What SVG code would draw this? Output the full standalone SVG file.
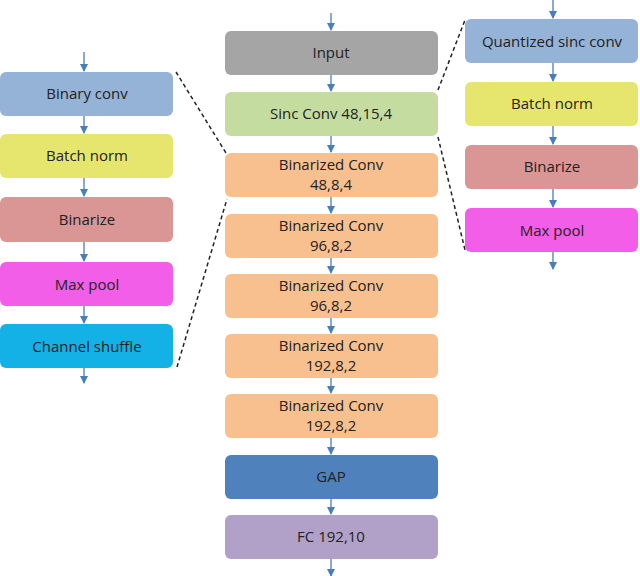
<svg xmlns="http://www.w3.org/2000/svg" width="640" height="576" viewBox="0 0 640 576">
<defs>
<marker id="ah" markerWidth="8" markerHeight="8" refX="7" refY="4" orient="auto" markerUnits="userSpaceOnUse"><path d="M0,0 L8,4 L0,8 z" fill="#4a7ebb"/></marker>
<style>
text{font-family:"Open Sans","Liberation Sans",sans-serif;font-size:15px;fill:#222;text-anchor:middle}
.b{stroke:none}
.a{stroke:#4a7ebb;stroke-width:1.3;fill:none;marker-end:url(#ah)}
.d{stroke:#222;stroke-width:1.5;stroke-dasharray:4,3;fill:none}
</style>
</defs>
<rect width="640" height="576" fill="#fff"/>
<g id="connectors">
<path class="a" d="M331,13 V30"/><path class="a" d="M331,75 V91"/><path class="a" d="M331,136 V152"/>
<path class="a" d="M331,197 V213"/><path class="a" d="M331,258 V273"/><path class="a" d="M331,318 V333"/>
<path class="a" d="M331,378 V393"/><path class="a" d="M331,438 V454"/><path class="a" d="M331,499 V514"/><path class="a" d="M331,559 V576"/>
<path class="a" d="M84,52 V71"/><path class="a" d="M84,116 V133"/><path class="a" d="M84,178 V196"/><path class="a" d="M84,242 V261"/><path class="a" d="M84,306 V323"/><path class="a" d="M84,368 V383"/>
<path class="a" d="M553,0 V18"/><path class="a" d="M553,63 V81"/><path class="a" d="M553,126 V144"/><path class="a" d="M553,189 V207"/><path class="a" d="M553,252 V269"/>
<path class="d" d="M176,72 L226,153"/><path class="d" d="M177,367 L227,199"/>
<path class="d" d="M438,90 L465,20"/><path class="d" d="M438,137 L465,250"/>
</g>
<g id="input"><rect class="b" x="225" y="31" width="213" height="44" rx="6" fill="#a5a5a5"/><text x="331" y="58">Input</text></g>
<g id="sinc"><rect class="b" x="225" y="92" width="213" height="44" rx="6" fill="#c4dca0"/><text x="331" y="119">Sinc Conv 48,15,4</text></g>
<g id="bc1"><rect class="b" x="225" y="153" width="213" height="44" rx="6" fill="#f9c08f"/><text x="331" y="170">Binarized Conv</text><text x="331" y="190">48,8,4</text></g>
<g id="bc2"><rect class="b" x="225" y="214" width="213" height="44" rx="6" fill="#f9c08f"/><text x="331" y="231">Binarized Conv</text><text x="331" y="251">96,8,2</text></g>
<g id="bc3"><rect class="b" x="225" y="274" width="213" height="44" rx="6" fill="#f9c08f"/><text x="331" y="291">Binarized Conv</text><text x="331" y="311">96,8,2</text></g>
<g id="bc4"><rect class="b" x="225" y="334" width="213" height="44" rx="6" fill="#f9c08f"/><text x="331" y="351">Binarized Conv</text><text x="331" y="371">192,8,2</text></g>
<g id="bc5"><rect class="b" x="225" y="394" width="213" height="44" rx="6" fill="#f9c08f"/><text x="331" y="411">Binarized Conv</text><text x="331" y="431">192,8,2</text></g>
<g id="gap"><rect class="b" x="225" y="455" width="213" height="44" rx="6" fill="#4f81bd"/><text x="331" y="482">GAP</text></g>
<g id="fc"><rect class="b" x="225" y="515" width="213" height="44" rx="6" fill="#b1a0c7"/><text x="331" y="542">FC 192,10</text></g>
<g id="l1"><rect class="b" x="0" y="72" width="173" height="44" rx="6" fill="#95b3d7"/><text x="87" y="99">Binary conv</text></g>
<g id="l2"><rect class="b" x="0" y="134" width="173" height="44" rx="6" fill="#e6e66e"/><text x="87" y="161">Batch norm</text></g>
<g id="l3"><rect class="b" x="0" y="197" width="173" height="45" rx="6" fill="#d99694"/><text x="87" y="225">Binarize</text></g>
<g id="l4"><rect class="b" x="0" y="262" width="173" height="44" rx="6" fill="#f25ee8"/><text x="87" y="290">Max pool</text></g>
<g id="l5"><rect class="b" x="0" y="324" width="173" height="44" rx="6" fill="#14b1e7"/><text x="87" y="352">Channel shuffle</text></g>
<g id="r1"><rect class="b" x="465" y="19" width="173" height="44" rx="6" fill="#95b3d7"/><text x="552" y="47">Quantized sinc conv</text></g>
<g id="r2"><rect class="b" x="465" y="82" width="173" height="44" rx="6" fill="#e6e66e"/><text x="552" y="109">Batch norm</text></g>
<g id="r3"><rect class="b" x="465" y="145" width="173" height="44" rx="6" fill="#d99694"/><text x="552" y="172">Binarize</text></g>
<g id="r4"><rect class="b" x="465" y="208" width="173" height="44" rx="6" fill="#f25ee8"/><text x="552" y="236">Max pool</text></g>
</svg>
